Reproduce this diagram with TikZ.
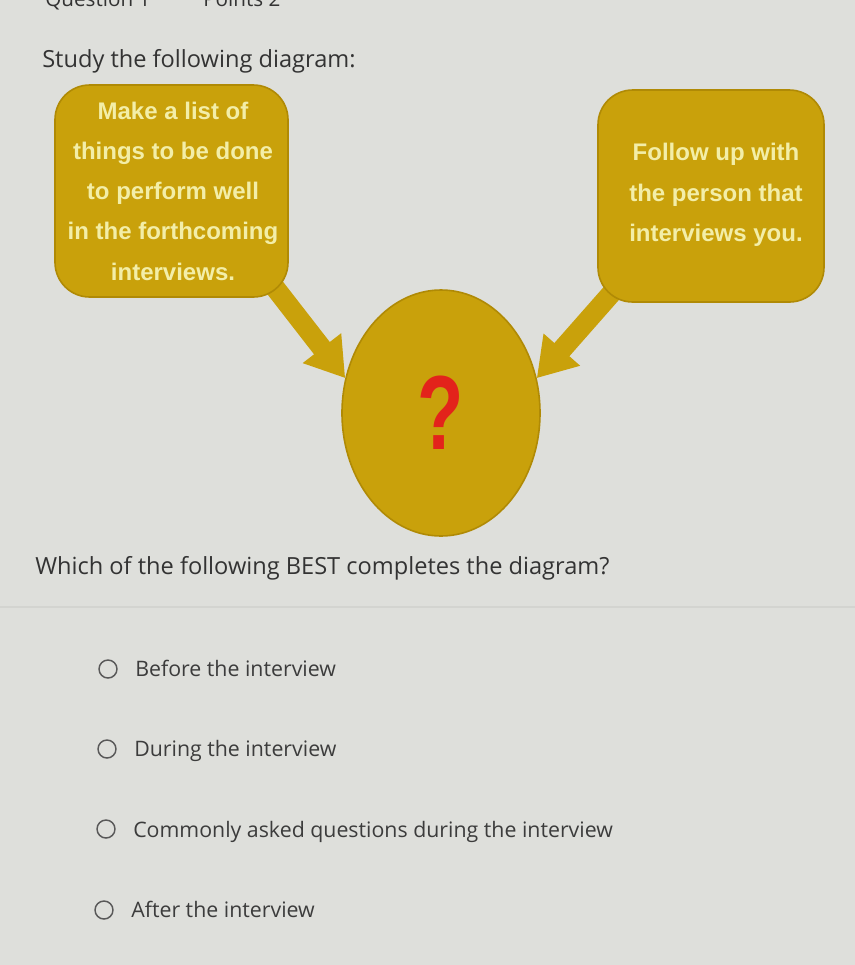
\documentclass[tikz,border=0pt]{standalone}
\usepackage{fontspec}
\setmainfont{Open Sans}
\newfontfamily\boxfont{Liberation Sans}
\usetikzlibrary{shapes.geometric,arrows.meta,backgrounds}
\definecolor{bg}{HTML}{DEDFDB}
\definecolor{gold}{HTML}{C9A10B}
\definecolor{golddark}{HTML}{B08A05}
\definecolor{boxtext}{HTML}{F3EEA8}
\definecolor{qred}{HTML}{E3231B}
\definecolor{ink}{HTML}{333333}
\definecolor{opt}{HTML}{3C3C3C}
\definecolor{sep}{HTML}{D3D4D0}
\tikzset{
 bubble/.style={rounded corners=26pt, fill=gold, draw=golddark, line width=1.2pt, inner sep=0pt},
 bubbletext/.style={align=center, text=boxtext, font=\boxfont\bfseries\fontsize{18}{30.2}\selectfont, inner sep=0pt},
 oval/.style={ellipse, fill=gold, draw=golddark, line width=1.2pt, inner sep=0pt},
 pointer/.style={gold, line width=15pt, -{Triangle[length=28.5pt,width=34.5pt]}},
 radio/.style={circle, draw=opt!85, line width=1.1pt, minimum size=13.5pt, inner sep=0pt},
 prompt/.style={anchor=base west, text=ink, font=\fontsize{17.7}{20}\selectfont, inner sep=0pt},
 header/.style={anchor=base west, text=ink, font=\fontsize{15.5}{18}\selectfont, inner sep=0pt},
 option/.style={anchor=base west, text=opt, font=\fontsize{16}{19}\selectfont, inner sep=0pt},
}
\begin{document}
\begin{tikzpicture}[x=0.75pt,y=-0.75pt]
\useasboundingbox (0,0) rectangle (855,965);
\begin{pgfonlayer}{background}
\fill[bg] (0,0) rectangle (855,965);
\end{pgfonlayer}
% header (cut off at top, as in the reference)
\node[header] (hq) at (45,6) {Question 1};
\node[header] (hp) at (203,6) {Points 2};
\node[prompt] (study) at (42,67) {Study the following diagram:};
% diagram
\node[bubble, minimum width=174.75pt, minimum height=159pt] (lbox) at (171.5,191) {};
\node[bubbletext] (ltext) at (173,191)
  {Make a list of\\things to be done\\to perform well\\in the forthcoming\\interviews.};
\node[bubble, minimum width=169.5pt, minimum height=159pt] (rbox) at (711,196) {};
\node[bubbletext] (rtext) at (716,195)
  {Follow up with\\the person that\\interviews you.};
\node[oval, minimum width=148.5pt, minimum height=184.5pt] (q) at (441,413)
  {\boxfont\bfseries\color{qred}\fontsize{79}{84}\selectfont\scalebox{0.72}[1]{?}};
\coordinate (ls) at (269,280);
\coordinate (rs) at (617,287);
\begin{pgfonlayer}{background}
\draw[pointer] (ls) -- (q.160);
\draw[pointer] (rs) -- (q.20);
\end{pgfonlayer}
\node[prompt] (which) at (35,574) {Which of the following BEST completes the diagram?};
\draw[sep, line width=0.8pt] (0,607) -- (855,607);
% options
\node[radio] (r1) at (108,669) {};
\node[option] (o1) at (135,676) {Before the interview};
\node[radio] (r2) at (107,749) {};
\node[option] (o2) at (134,756) {During the interview};
\node[radio] (r3) at (106,829) {};
\node[option] (o3) at (133,837) {Commonly asked questions during the interview};
\node[radio] (r4) at (104,910) {};
\node[option] (o4) at (131,917) {After the interview};
\end{tikzpicture}
\end{document}
